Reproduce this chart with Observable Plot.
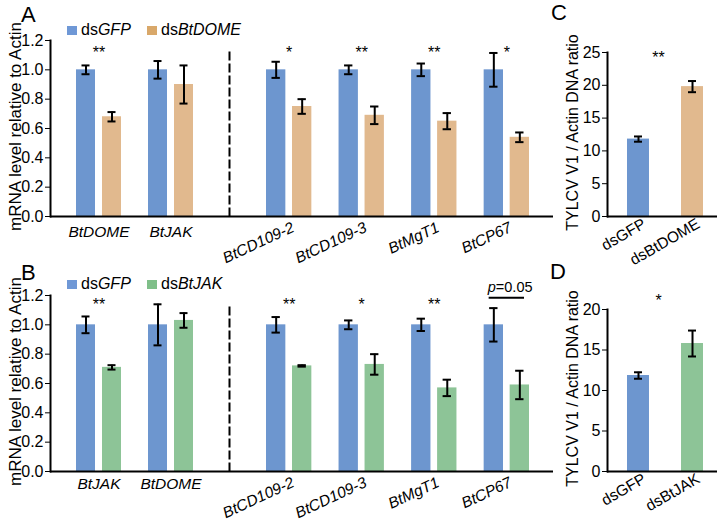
<!DOCTYPE html>
<html><head><meta charset="utf-8">
<script src="https://cdn.jsdelivr.net/npm/d3@7"></script>
<script src="https://cdn.jsdelivr.net/npm/@observablehq/plot@0.6"></script>
<style>
body{margin:0;background:#fff;font-family:"Liberation Sans",Arial,sans-serif;}
#fig{position:relative;width:722px;height:529px;overflow:hidden;background:#fff;}
.part{position:absolute;}
.letter{position:absolute;font-size:22px;line-height:1;color:#000;}
.legend{position:absolute;font-size:16px;line-height:1;white-space:nowrap;display:flex;align-items:center;color:#000;}
.sw{display:inline-block;width:10px;height:9px;margin-right:4px;}
</style></head><body><div id="fig"></div>
<script>
// ---------- data ----------
const yTicksMRNA = [0, 0.2, 0.4, 0.6, 0.8, 1.0, 1.2];
const yTicksC = [0, 5, 10, 15, 20, 25];
const yTicksD = [0, 5, 10, 15, 20];

// Panel A (dsGFP vs dsBtDOME)
const genesA_left = ["BtDOME", "BtJAK"];
const genesA_right = ["BtCD109-2", "BtCD109-3", "BtMgT1", "BtCP67"];
const aGFP = [1.00, 1.00, 1.00, 1.00, 1.00, 1.00];
const aGFPerr = [0.03, 0.06, 0.055, 0.03, 0.043, 0.115];
const aDOME = [0.68, 0.90, 0.75, 0.69, 0.65, 0.54];
const aDOMEerr = [0.032, 0.13, 0.05, 0.06, 0.055, 0.033];
const aSig = ["**", "", "*", "**", "**", "*"];

// Panel B (dsGFP vs dsBtJAK)
const genesB_left = ["BtJAK", "BtDOME"];
const genesB_right = ["BtCD109-2", "BtCD109-3", "BtMgT1", "BtCP67"];
const bGFP = [1.00, 1.00, 1.00, 1.00, 1.00, 1.00];
const bGFPerr = [0.057, 0.14, 0.053, 0.03, 0.042, 0.114];
const bJAK = [0.71, 1.03, 0.72, 0.73, 0.57, 0.59];
const bJAKerr = [0.015, 0.05, 0.005, 0.07, 0.056, 0.097];
const bSig = ["**", "", "**", "*", "**", ""];
const bPnote = ["", "", "", "", "", "0.05"];

// Panel C
const cLabels = ["dsGFP", "dsBtDOME"];
const cVals = [11.8, 19.8];
const cErrs = [0.4, 0.85];
const cSig = "**";
// Panel D
const dLabels = ["dsGFP", "dsBtJAK"];
const dVals = [11.85, 15.8];
const dErrs = [0.4, 1.6];
const dSig = "*";

const mrnaLabel = "mRNA level relative to Actin";
const dnaLabel = "TYLCV V1 / Actin DNA ratio";

// ---------- styles ----------
const blue = "#6d96cf", tan = "#e1b98e", green = "#8dc497";
const fig = document.getElementById("fig");
const baseStyle = {fontFamily: '"Liberation Sans", Arial, sans-serif', fontSize: "15px", background: "transparent", overflow: "visible", color: "#000"};

function place(el, left, top) {
  el.classList.add("part");
  el.style.left = left + "px";
  el.style.top = top + "px";
  fig.appendChild(el);
}

function errorMarks(rows, v, e, dx, il, ir) {
  return [
    Plot.ruleX(rows, {x: "gene", y1: d => d[v] - d[e], y2: d => d[v] + d[e], dx, stroke: "#000", strokeWidth: 2}),
    Plot.tickY(rows, {x: "gene", y: d => d[v] + d[e], insetLeft: il, insetRight: ir, stroke: "#000", strokeWidth: 2}),
    Plot.tickY(rows, {x: "gene", y: d => d[v] - d[e], insetLeft: il, insetRight: ir, stroke: "#000", strokeWidth: 2})
  ];
}

function mrnaPart(o) {
  const rows = o.genes.map((g, i) => ({gene: g, c: o.ctrl[i], ce: o.ctrlErr[i], k: o.kd[i], ke: o.kdErr[i], s: o.sig[i], p: o.pnote ? o.pnote[i] : ""}));
  const marks = [
    Plot.barY(rows, {x: "gene", y: "c", fill: blue, insetRight: 26}),
    Plot.barY(rows, {x: "gene", y: "k", fill: o.kdColor, insetLeft: 26}),
    ...errorMarks(rows, "c", "ce", -13, 5.5, 31.5),
    ...errorMarks(rows, "k", "ke", 13, 31.5, 5.5),
    Plot.text(rows.filter(d => d.s), {x: "gene", text: "s", frameAnchor: "top", lineAnchor: "top", dy: o.sigDy, fontSize: 16}),
    Plot.ruleY([0], {stroke: "#000", strokeWidth: 2}),
    Plot.axisX({tickSize: 0, tickPadding: o.tickPad, tickRotate: o.rotate, fontStyle: "italic", fontSize: 15.5, label: null, dx: o.labelDx || 0})
  ];
  const pRows = rows.filter(d => d.p);
  if (pRows.length) {
    marks.push(
      Plot.tickY(pRows, {x: "gene", y: d => d.c + d.ce + 0.07, insetLeft: 5, insetRight: 5, stroke: "#000", strokeWidth: 2}),
      Plot.text(pRows, {x: "gene", text: () => "p", frameAnchor: "top", lineAnchor: "middle", textAnchor: "end", dy: -8, dx: -11, fontStyle: "italic", fontSize: 14.5}),
      Plot.text(pRows, {x: "gene", text: d => "=" + d.p, frameAnchor: "top", lineAnchor: "middle", textAnchor: "start", dy: -8, dx: -11, fontSize: 14.5})
    );
  }
  if (o.leftAxis) {
    marks.push(
      Plot.frame({anchor: "left", stroke: "#000", strokeWidth: 2}),
      Plot.axisY({ticks: yTicksMRNA, tickFormat: d3.format(".1f"), tickSize: 5, tickPadding: 2, label: null, fontSize: 16}),
      Plot.text([mrnaLabel], {text: d => d, frameAnchor: "left", textAnchor: "middle", lineAnchor: "middle", rotate: -90, dx: -35, dy: -2, fontSize: 17})
    );
  }
  if (o.dashed) {
    marks.push(Plot.frame({anchor: "left", stroke: "#000", strokeWidth: 2, strokeDasharray: "7,5", insetTop: 12}));
  }
  return Plot.plot({
    width: o.width, height: o.height,
    marginLeft: o.marginLeft, marginRight: 0, marginTop: 40, marginBottom: o.marginBottom,
    style: baseStyle,
    x: {domain: o.genes, range: o.xRange, paddingInner: 0.375, paddingOuter: 0, round: false},
    y: {domain: [0, 1.2], axis: null},
    marks
  });
}

function dnaPart(o) {
  const rows = o.labels.map((l, i) => ({gene: l, v: o.vals[i], e: o.errs[i]}));
  return Plot.plot({
    width: 169, height: o.height,
    marginLeft: 54, marginRight: 5, marginTop: o.marginTop, marginBottom: o.marginBottom,
    style: baseStyle,
    x: {domain: o.labels, range: [74, 150], paddingInner: 0.593, paddingOuter: 0, round: false},
    y: {domain: [0, o.max], axis: null},
    color: {domain: o.labels, range: [blue, o.kdColor]},
    marks: [
      Plot.barY(rows, {x: "gene", y: "v", fill: "gene"}),
      Plot.ruleX(rows, {x: "gene", y1: d => d.v - d.e, y2: d => d.v + d.e, stroke: "#000", strokeWidth: 2}),
      Plot.tickY(rows, {x: "gene", y: d => d.v + d.e, insetLeft: 7, insetRight: 7, stroke: "#000", strokeWidth: 2}),
      Plot.tickY(rows, {x: "gene", y: d => d.v - d.e, insetLeft: 7, insetRight: 7, stroke: "#000", strokeWidth: 2}),
      Plot.text([o.sig], {text: d => d, frameAnchor: "top", lineAnchor: "top", dy: o.sigDy, dx: -4, fontSize: 16}),
      Plot.frame({anchor: "left", stroke: "#000", strokeWidth: 2}),
      Plot.ruleY([0], {stroke: "#000", strokeWidth: 2}),
      Plot.axisY({ticks: o.ticks, tickSize: 5, tickPadding: 2, label: null, fontSize: 16}),
      Plot.text([dnaLabel], {text: d => d, frameAnchor: "left", textAnchor: "middle", lineAnchor: "middle", rotate: -90, dx: -35, dy: -2, fontSize: 16}),
      Plot.axisX({tickSize: 0, tickPadding: 6, tickRotate: -30, label: null, fontSize: 15.5, dx: 6})
    ]
  });
}

// ---------- Panel A ----------
place(mrnaPart({genes: genesA_left, ctrl: aGFP.slice(0, 2), ctrlErr: aGFPerr.slice(0, 2), kd: aDOME.slice(0, 2), kdErr: aDOMEerr.slice(0, 2), sig: aSig.slice(0, 2),
  kdColor: tan, width: 229, height: 255, marginLeft: 50, marginBottom: 39, xRange: [76, 193], leftAxis: true, sigDy: 6, tickPad: 9, rotate: 0}), 0, 0);
place(mrnaPart({genes: genesA_right, ctrl: aGFP.slice(2), ctrlErr: aGFPerr.slice(2), kd: aDOME.slice(2), kdErr: aDOMEerr.slice(2), sig: aSig.slice(2),
  kdColor: tan, width: 324, height: 255, marginLeft: 0, marginBottom: 39, xRange: [37, 300], dashed: true, sigDy: 6, tickPad: 10, rotate: -25, labelDx: 4}), 229, 0);

// ---------- Panel B ----------
place(mrnaPart({genes: genesB_left, ctrl: bGFP.slice(0, 2), ctrlErr: bGFPerr.slice(0, 2), kd: bJAK.slice(0, 2), kdErr: bJAKerr.slice(0, 2), sig: bSig.slice(0, 2),
  kdColor: green, width: 229, height: 274, marginLeft: 50, marginBottom: 58, xRange: [76, 193], leftAxis: true, sigDy: 3, tickPad: 6, rotate: 0}), 0, 255);
place(mrnaPart({genes: genesB_right, ctrl: bGFP.slice(2), ctrlErr: bGFPerr.slice(2), kd: bJAK.slice(2), kdErr: bJAKerr.slice(2), sig: bSig.slice(2), pnote: bPnote.slice(2),
  kdColor: green, width: 324, height: 274, marginLeft: 0, marginBottom: 58, xRange: [37, 300], dashed: true, sigDy: 3, tickPad: 10, rotate: -25, labelDx: 4}), 229, 255);

// ---------- Panels C, D ----------
place(dnaPart({labels: cLabels, vals: cVals, errs: cErrs, sig: cSig, kdColor: tan, max: 25, ticks: yTicksC, height: 255, marginTop: 52, marginBottom: 39, sigDy: -1}), 553, 0);
place(dnaPart({labels: dLabels, vals: dVals, errs: dErrs, sig: dSig, kdColor: green, max: 20, ticks: yTicksD, height: 274, marginTop: 54, marginBottom: 58, sigDy: -15}), 553, 255);

// ---------- letters and legends ----------
function addLetter(t, x, y) {
  const d = document.createElement("div");
  d.className = "letter"; d.textContent = t;
  d.style.left = x + "px"; d.style.top = y + "px";
  fig.appendChild(d);
}
addLetter("A", 21, 4); addLetter("B", 21, 262); addLetter("C", 551, 2); addLetter("D", 550, 261);

function addLegend(x, y, color, plain, ital) {
  const d = document.createElement("div");
  d.className = "legend";
  d.style.left = x + "px"; d.style.top = y + "px";
  d.innerHTML = `<span class="sw" style="background:${color}"></span>${plain}<i>${ital}</i>`;
  fig.appendChild(d);
}
addLegend(67, 22, "#6f98d6", "ds", "GFP");
addLegend(147, 22, "#d9a86a", "ds", "BtDOME");
addLegend(67, 276, "#6f98d6", "ds", "GFP");
addLegend(147, 276, "#7fbf89", "ds", "BtJAK");
</script></body></html>
